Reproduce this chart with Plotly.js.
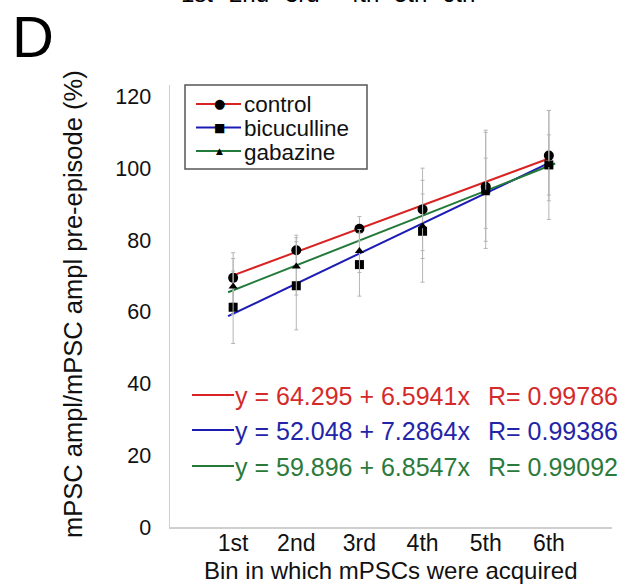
<!DOCTYPE html>
<html>
<head>
<meta charset="utf-8">
<script src="https://cdn.plot.ly/plotly-3.0.1.min.js"></script>
<style>html,body{margin:0;padding:0;background:#fff;}#chart{width:618px;height:587px;}</style>
</head>
<body>
<div id="chart"></div>
<script>
// ---- data ----
const bins = [1, 2, 3, 4, 5, 6];
const binLabels = ["1st", "2nd", "3rd", "4th", "5th", "6th"];
const seriesNames = ["control", "bicuculline", "gabazine"];

const controlY = [69.5, 77.2, 83.2, 88.6, 94.9, 103.6];
const controlErr = [7.0, 4.2, 3.4, 11.5, 15.2, 12.6];

const bicucullineY = [61.3, 67.3, 73.2, 82.5, 94.2, 101.0];
const bicucullineErr = [10.1, 12.3, 8.8, 14.2, 16.5, 15.2];

const gabazineY = [67.1, 72.7, 77.0, 83.9, 93.1, 101.0];
const gabazineErr = [7.8, 8.0, 6.0, 9.0, 9.8, 8.4];

// fitted lines as drawn in the figure (start/end points)
const fitStartX = [1.0, 0.92, 0.92];
const fitEndX = [6.0, 6.02, 6.1];
const fitStartY = [70.2, 58.8, 65.5];
const fitEndY = [102.8, 101.7, 101.4];

// equations printed in the figure
const fitInterceptText = ["64.295", "52.048", "59.896"];
const fitSlopeText = ["6.5941", "7.2864", "6.8547"];
const fitR = ["0.99786", "0.99386", "0.99092"];

const yTicks = [0, 20, 40, 60, 80, 100, 120];
const topPanelLabels = ["1st", "2nd", "3rd", "4th", "5th", "6th"];

// ---- styles ----
const colors = ["#d92323", "#1c1cb4", "#23793a"];
const textColors = ["#d42a2a", "#2424a8", "#2a7a3c"];
const symbols = ["circle", "square", "triangle-up"];
const legendGlyphs = ["\u25CF", "\u25A0", "\u25B2"];
const legendGlyphSize = [13, 12, 9];
const msizes = [10, 9, 8];
const FONT = "Liberation Sans, Arial, Helvetica, sans-serif";

// plot area in pixels (for placing layout items)
const PL = 170, PW = 442, PT = 85, PH = 442;
const px = v => (v - PL) / PW;
const py = v => (PT + PH - v) / PH;

const ys = [controlY, bicucullineY, gabazineY];
const errs = [controlErr, bicucullineErr, gabazineErr];

const traces = [];
for (let i = 0; i < 3; i++) {
  traces.push({
    x: [fitStartX[i], fitEndX[i]],
    y: [fitStartY[i], fitEndY[i]],
    mode: "lines",
    line: {color: colors[i], width: 2},
    showlegend: false, hoverinfo: "skip"
  });
}
for (let i = 0; i < 3; i++) {
  traces.push({
    x: bins, y: ys[i], name: seriesNames[i],
    mode: "markers",
    marker: {color: "#000", symbol: symbols[i], size: msizes[i]},
    error_y: {type: "data", array: errs[i], visible: true, color: "#b5b5b5", thickness: 1, width: 2},
    showlegend: false
  });
}

const annotations = [];
const shapes = [];

// legend (drawn manually to match the compact box)
shapes.push({type: "rect", xref: "paper", yref: "paper", x0: px(185), x1: px(367), y0: py(169), y1: py(85),
  line: {color: "#555", width: 1.5}, fillcolor: "#fff", layer: "above"});
const legRowY = [104, 127.5, 151];
for (let i = 0; i < 3; i++) {
  shapes.push({type: "line", xref: "paper", yref: "paper", x0: px(196), x1: px(241), y0: py(legRowY[i]), y1: py(legRowY[i]),
    line: {color: colors[i], width: 2}, layer: "above"});
  annotations.push({xref: "paper", yref: "paper", x: px(219), y: py(legRowY[i]), xanchor: "center", yanchor: "middle",
    text: legendGlyphs[i], showarrow: false, borderpad: 0, font: {family: "DejaVu Sans", size: legendGlyphSize[i], color: "#000"}});
  annotations.push({xref: "paper", yref: "paper", x: px(243), y: py(legRowY[i] + 1), xanchor: "left", yanchor: "middle",
    text: seriesNames[i], showarrow: false, borderpad: 0, font: {family: FONT, size: 22.5, color: "#111"}});
}

// equations
const eqRowY = [396, 431, 467];
for (let i = 0; i < 3; i++) {
  shapes.push({type: "line", xref: "paper", yref: "paper", x0: px(192), x1: px(234), y0: py(eqRowY[i] - 1), y1: py(eqRowY[i] - 1),
    line: {color: colors[i], width: 2}});
  annotations.push({xref: "paper", yref: "paper", x: px(233), y: py(eqRowY[i]), xanchor: "left", yanchor: "middle",
    text: "y = " + fitInterceptText[i] + " + " + fitSlopeText[i] + "x", showarrow: false,
    font: {family: FONT, size: 25, color: textColors[i]}});
  annotations.push({xref: "paper", yref: "paper", x: px(486), y: py(eqRowY[i]), xanchor: "left", yanchor: "middle",
    text: "R= " + fitR[i], showarrow: false,
    font: {family: FONT, size: 25, color: textColors[i]}});
}

// axis titles
annotations.push({xref: "paper", yref: "paper", x: px(391), y: py(570), xanchor: "center", yanchor: "middle",
  text: "Bin in which mPSCs were acquired", showarrow: false, font: {family: FONT, size: 24, color: "#111"}});
annotations.push({xref: "paper", yref: "paper", x: px(73), y: py(304), xanchor: "center", yanchor: "middle", textangle: -90,
  text: "mPSC ampl/mPSC ampl pre-episode (%)", showarrow: false, font: {family: FONT, size: 25.5, color: "#111"}});

// panel letter and the cut-off labels of the panel above
annotations.push({xref: "paper", yref: "paper", x: px(10), y: py(37), xanchor: "left", yanchor: "middle",
  text: "D", showarrow: false, font: {family: FONT, size: 58, color: "#000"}});
const topX = [197, 249, 302, 362, 410, 458];
for (let i = 0; i < topPanelLabels.length; i++) {
  annotations.push({xref: "paper", yref: "paper", x: px(topX[i]), y: py(9), xanchor: "center", yanchor: "bottom",
    text: topPanelLabels[i], showarrow: false, font: {family: FONT, size: 24, color: "#000"}});
}

const layout = {
  width: 618, height: 587,
  margin: {l: PL, r: 618 - PL - PW, t: PT, b: 587 - PT - PH},
  paper_bgcolor: "#fff", plot_bgcolor: "#fff",
  font: {family: FONT, size: 23, color: "#111"},
  showlegend: false,
  xaxis: {range: [0, 7], tickmode: "array", tickvals: bins, ticktext: binLabels,
    showgrid: false, zeroline: false, showline: true, linecolor: "#cfcfcf", linewidth: 1.5,
    ticks: "", ticklabelstandoff: -5, tickfont: {size: 23, color: "#111"}},
  yaxis: {range: [0, 123.3], tickmode: "array", tickvals: yTicks,
    showgrid: false, zeroline: false, showline: true, linecolor: "#cfcfcf", linewidth: 1.5,
    ticks: "outside", ticklen: 13, tickcolor: "rgba(0,0,0,0)", tickfont: {size: 21.5, color: "#111"}},
  shapes: shapes,
  annotations: annotations
};

Plotly.newPlot("chart", traces, layout, {displayModeBar: false, staticPlot: true});
</script>
</body>
</html>
